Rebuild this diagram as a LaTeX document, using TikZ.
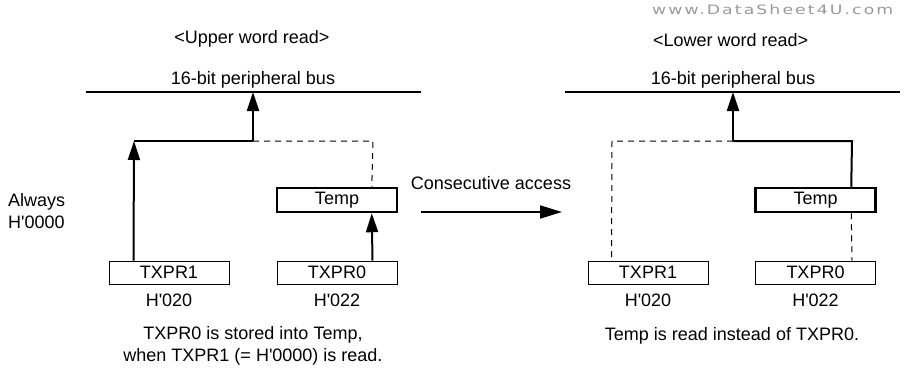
\documentclass[tikz,border=0pt]{standalone}
\usepackage{fontspec}
\setmainfont{Liberation Sans}[Ligatures=TeXOff]
\newfontfamily\wmfont{DejaVu Sans}[LetterSpace=12]
\usetikzlibrary{arrows.meta,calc,positioning}
\begin{document}
\begin{tikzpicture}[x=1pt,y=-1pt,
  txt/.style={font=\fontsize{18}{22}\selectfont, inner sep=0pt},
  reg/.style={draw, line width=1pt, minimum width=120pt, minimum height=23pt, inner sep=0pt, font=\fontsize{18}{22}\selectfont},
  tmp/.style={reg, line width=2.5pt, minimum height=24pt},
  busline/.style={line width=2pt},
  flow/.style={line width=2pt, -{Triangle[length=19pt,width=12pt]}},
  solid2/.style={line width=2pt},
  dsh/.style={line width=1pt, dash pattern=on 6pt off 5pt},
]
\useasboundingbox (0,0) rectangle (905,370);

% watermark
\node[inner sep=0pt, anchor=west, text=black!40] (wm) at (652,10) {\scalebox{1.33}[1]{\wmfont\fontsize{13}{15}\selectfont www.DataSheet4U.com}};

% ---------- Left: upper word read ----------
\node[txt] (t1) at (252,39) {<Upper word read>};
\node[txt] (b1) at (253,80) {16-bit peripheral bus};
\coordinate (busLa) at (86,92);
\coordinate (busLb) at (421,92);
\draw[busline] (busLa) -- (busLb);

\node[reg] (r1L) at (169,272.5) {TXPR1};
\node[reg] (r0L) at (337,272.5) {TXPR0};
\node[tmp] (tL) at (337,200) {Temp};
\node[txt] (a1L) at (169,300) {H'020};
\node[txt] (a0L) at (337,300) {H'022};

\coordinate (jL) at (253,141);
\coordinate (kL) at (134,141);
\coordinate (dL) at (373,141);
\coordinate (busLin) at (253,92);
\draw[flow] ($(r1L.north west)+(25,0)$) -- (kL);
\draw[solid2] (kL) -- (jL);
\draw[flow] (jL) -- (busLin);
\draw[dsh] (jL) -- (dL) -- ($(tL.north west)+(96,0)$);
\draw[flow] ($(r0L.north west)+(96,0)$) -- ($(tL.south west)+(96,0)$);

\node[txt, align=left, anchor=west] (alw) at (8,211) {Always\\H'0000};
\node[txt, align=center] (capL) at (253,346) {TXPR0 is stored into Temp,\\when TXPR1 (= H'0000) is read.};

% ---------- Middle ----------
\node[txt] (cons) at (491,183) {Consecutive access};
\coordinate (ca) at (421,212);
\coordinate (cb) at (562,212);
\draw[line width=2pt, -{Triangle[length=22pt,width=13pt]}] (ca) -- (cb);

% ---------- Right: lower word read ----------
\node[txt, anchor=west] (t2) at (653,40) {<Lower word read>};
\node[txt] (b2) at (733,80) {16-bit peripheral bus};
\coordinate (busRa) at (565,92);
\coordinate (busRb) at (900,92);
\draw[busline] (busRa) -- (busRb);

\node[reg] (r1R) at (648,272.5) {TXPR1};
\node[reg] (r0R) at (815.5,272.5) {TXPR0};
\node[tmp] (tR) at (815.5,200) {Temp};
\node[txt] (a1R) at (648,300) {H'020};
\node[txt] (a0R) at (815.5,300) {H'022};

\coordinate (jR) at (733,141);
\coordinate (dR) at (612,141);
\coordinate (sR) at (852,141);
\coordinate (busRin) at (733,92);
\draw[solid2] ($(tR.north west)+(97,0)$) -- (sR) -- (jR);
\draw[flow] (jR) -- (busRin);
\draw[dsh] (jR) -- (dR) -- ($(r1R.north west)+(24,0)$);
\draw[dsh] ($(tR.south west)+(97,0)$) -- ($(r0R.north west)+(97,0)$);

\node[txt] (capR) at (732,336) {Temp is read instead of TXPR0.};
\end{tikzpicture}
\end{document}
